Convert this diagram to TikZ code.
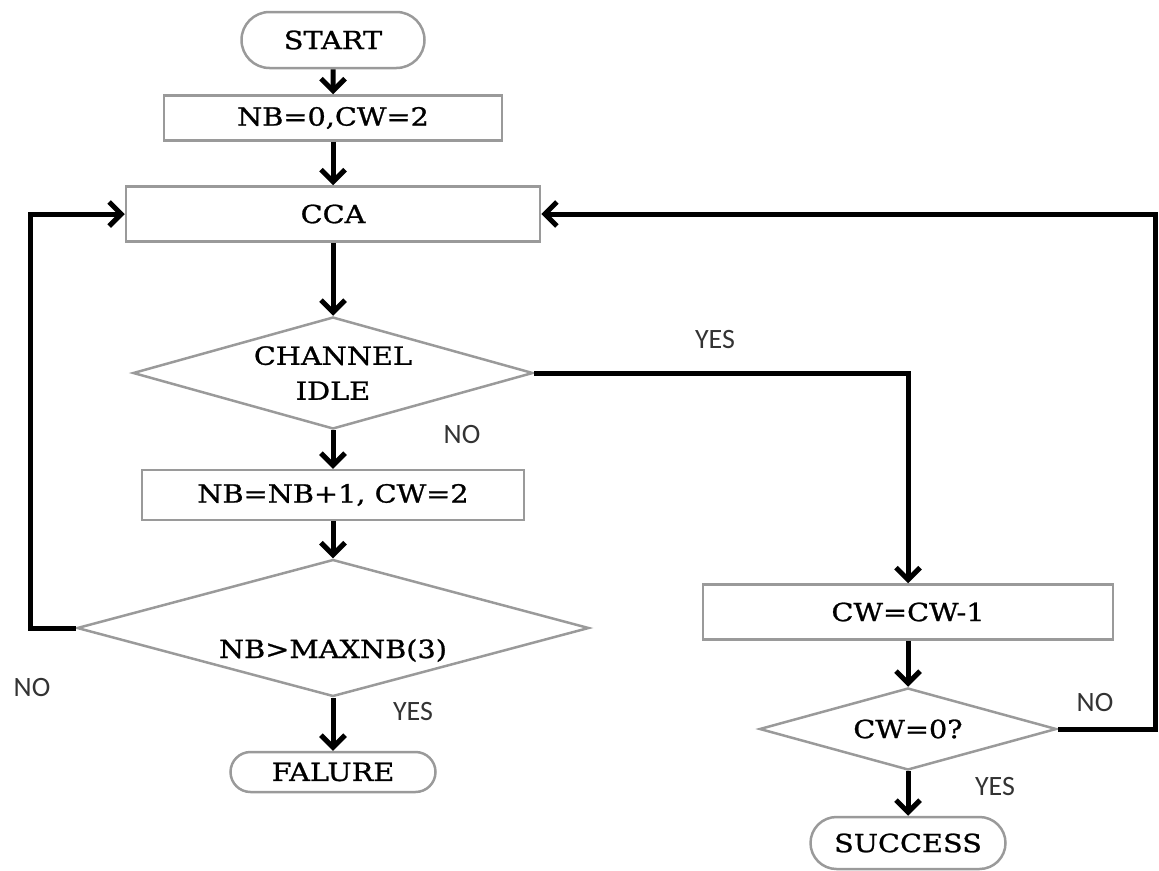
\documentclass[tikz,border=0pt]{standalone}
\usepackage{fontspec}
\setmainfont[FakeStretch=1.15,FakeBold=1]{DejaVu Serif}
\newfontfamily\labelfont{Carlito}
\usetikzlibrary{positioning,shapes.geometric,shapes.misc,arrows.meta}
\definecolor{boxgray}{HTML}{9A9A9A}
\definecolor{labelgray}{HTML}{333333}

\begin{document}
\begin{tikzpicture}[x=1pt,y=-1pt,>={Straight Barb[length=12pt,width=24pt]},line width=5pt,
    base node/.style={draw=boxgray,line width=2.5pt,inner sep=0pt,font=\fontsize{25}{35}\selectfont},
    term node/.style={base node,rounded rectangle},
    proc node/.style={base node,rectangle},
    dec node/.style={base node,diamond,align=center},
    ans node/.style={text=labelgray,font=\labelfont\fontsize{28}{32}\selectfont}]

    \useasboundingbox (0,0) rectangle (1159,870);

    % left column
    \node[term node,minimum width=183pt,minimum height=56pt] (start) at (333,40) {START};
    \node[proc node,minimum width=338pt,minimum height=45pt] (init) [below of = start, node distance=78pt] {NB=0,CW=2};
    \node[proc node,minimum width=414pt,minimum height=55pt] (cca) [below of = init, node distance=96pt] {CCA};
    \node[dec node,aspect=3.57,minimum width=400pt,minimum height=112pt] (idle) [below of = cca, node distance=159pt] {CHANNEL\\IDLE};
    \node[proc node,minimum width=382pt,minimum height=50pt] (retry) [below of = idle, node distance=122pt] {NB=NB+1, CW=2};
    \node[dec node,aspect=3.74,minimum width=512pt,minimum height=137pt] (maxnb) [below of = retry, node distance=133pt] {\smash{\raisebox{-30pt}{NB>MAXNB(3)}}};
    \node[term node,minimum width=205pt,minimum height=40pt] (fail) [below of = maxnb, node distance=144pt] {FALURE};

    % right column
    \node[proc node,minimum width=410pt,minimum height=55pt] (cwdec) at (908,612) {CW=CW-1};
    \node[dec node,aspect=3.6,minimum width=297pt,minimum height=82pt] (cwzero) [below of = cwdec, node distance=117pt] {CW=0?};
    \node[term node,minimum width=195pt,minimum height=52pt] (success) [below of = cwzero, node distance=114pt] {SUCCESS};

    \coordinate (lbend) at (30,214);
    \coordinate (rbend) at (1155,214);

    \node[ans node] (idleyes) at (715,340) {YES};
    \node[ans node] (idleno) at (462,435) {NO};
    \node[ans node] (maxno) at (32,688) {NO};
    \node[ans node] (maxyes) at (413,712) {YES};
    \node[ans node] (zerono) at (1095,703) {NO};
    \node[ans node] (zeroyes) at (995,787) {YES};

    \path[->]
        (start) edge (init)
        (init) edge (cca)
        (cca) edge (idle)
        (idle) edge (retry)
        (retry) edge (maxnb)
        (maxnb) edge (fail)
        (cwdec) edge (cwzero)
        (cwzero) edge (success)
        ;
    \draw[->] (idle.east) -| (cwdec.north);
    \draw[->] (maxnb.west) -| (lbend) -- (cca.west);
    \draw[->] (cwzero.east) -| (rbend) -- (cca.east);
\end{tikzpicture}
\end{document}
